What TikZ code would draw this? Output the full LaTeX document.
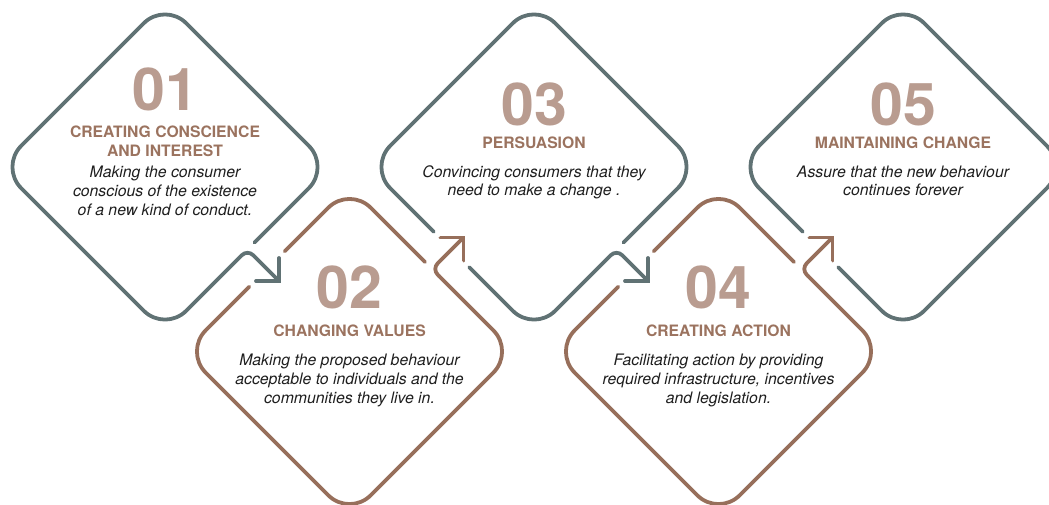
\documentclass[tikz,border=0pt]{standalone}
\usepackage{fontspec}
\setmainfont{TeX Gyre Heros}
\usetikzlibrary{calc}
\definecolor{grayc}{HTML}{607274}
\definecolor{brownc}{HTML}{976F5B}
\definecolor{numc}{HTML}{B99C90}
\definecolor{ttlc}{HTML}{9B735F}
\definecolor{bodyc}{HTML}{1E1E1E}
\begin{document}
\begin{tikzpicture}[x=1pt,y=-1pt,
  edgeline/.style={line width=3.8pt, line cap=round, line join=round, rounded corners=30pt},
  turnline/.style={line width=3.8pt, line cap=round, line join=round, rounded corners=8pt},
  headline/.style={line width=3.8pt, line cap=round, line join=miter},
  numtxt/.style={anchor=base, inner sep=0pt, text=numc, font=\fontsize{59}{59}\selectfont\bfseries},
  ttltxt/.style={anchor=base, inner sep=0pt, text=ttlc, font=\fontsize{15.7}{19}\selectfont\bfseries},
  bodytxt/.style={anchor=base, inner sep=0pt, text=bodyc, font=\fontsize{15.8}{19}\selectfont\itshape}]
\useasboundingbox (0,0) rectangle (1049,504);
\clip (0,0) rectangle (1049,504);
% diamond vertices
\coordinate (T1) at (165,2);     \coordinate (R1) at (330,167);   \coordinate (B1) at (165,332);   \coordinate (L1) at (0,167);
\coordinate (T2) at (349.5,186.5); \coordinate (R2) at (514.5,351.5); \coordinate (B2) at (349.5,516.5); \coordinate (L2) at (184.5,351.5);
\coordinate (T3) at (534,2);     \coordinate (R3) at (699,167);   \coordinate (B3) at (534,332);   \coordinate (L3) at (369,167);
\coordinate (T4) at (718.5,186.5); \coordinate (R4) at (883.5,351.5); \coordinate (B4) at (718.5,516.5); \coordinate (L4) at (553.5,351.5);
\coordinate (T5) at (903,2);     \coordinate (R5) at (1068,167);  \coordinate (B5) at (903,332);   \coordinate (L5) at (738,167);
% exits
\coordinate (S1) at (254.57,242.43); \coordinate (P1) at (240.43,256.57); \coordinate (M1) at (247.5,249.5); \coordinate (X1) at (279,281);
\coordinate (S2) at (424.93,261.93); \coordinate (P2) at (439.07,276.07); \coordinate (M2) at (432,269);     \coordinate (X2) at (463.5,237.5);
\coordinate (S3) at (623.57,242.43); \coordinate (P3) at (609.43,256.57); \coordinate (M3) at (616.5,249.5); \coordinate (X3) at (648,281);
\coordinate (S4) at (793.93,261.93); \coordinate (P4) at (808.07,276.07); \coordinate (M4) at (801,269);     \coordinate (X4) at (832.5,237.5);
% entry gaps
\coordinate (G2a) at (249.32,286.68); \coordinate (G2b) at (284.68,251.32);
\coordinate (G3a) at (433.82,231.82); \coordinate (G3b) at (469.18,267.18);
\coordinate (G4a) at (618.32,286.68); \coordinate (G4b) at (653.68,251.32);
\coordinate (G5a) at (802.82,231.82); \coordinate (G5b) at (838.18,267.18);
% diamond 1
\draw[edgeline, grayc] (S1) -- (R1) -- (T1) -- (L1) -- (B1) -- (P1);
\draw[turnline, grayc] (P1) -- (M1) -- (X1);
\draw[headline, grayc] ($(X1)+(-23,0)$) -- (X1) -- ($(X1)+(0,-23)$);
% diamond 2
\draw[edgeline, brownc] (S2) -- (T2) -- (G2b);
\draw[edgeline, brownc] (G2a) -- (L2) -- (B2) -- (R2) -- (P2);
\draw[turnline, brownc] (P2) -- (M2) -- (X2);
\draw[headline, brownc] ($(X2)+(-23,0)$) -- (X2) -- ($(X2)+(0,23)$);
% diamond 3
\draw[edgeline, grayc] (S3) -- (R3) -- (T3) -- (L3) -- (G3a);
\draw[edgeline, grayc] (G3b) -- (B3) -- (P3);
\draw[turnline, grayc] (P3) -- (M3) -- (X3);
\draw[headline, grayc] ($(X3)+(-23,0)$) -- (X3) -- ($(X3)+(0,-23)$);
% diamond 4
\draw[edgeline, brownc] (S4) -- (T4) -- (G4b);
\draw[edgeline, brownc] (G4a) -- (L4) -- (B4) -- (R4) -- (P4);
\draw[turnline, brownc] (P4) -- (M4) -- (X4);
\draw[headline, brownc] ($(X4)+(-23,0)$) -- (X4) -- ($(X4)+(0,23)$);
% diamond 5
\draw[edgeline, grayc] (G5b) -- (B5) -- (R5) -- (T5) -- (L5) -- (G5a);
% texts 1
\node[numtxt] (n1) at (165,110) {01};
\node[ttltxt] (t1a) at (165,137) {CREATING CONSCIENCE};
\node[ttltxt] (t1b) at (165,156) {AND INTEREST};
\node[bodytxt] (b1a) at (165,177) {Making the consumer};
\node[bodytxt] (b1b) at (165,196) {conscious of the existence};
\node[bodytxt] (b1c) at (165,215) {of a new kind of conduct.};
% texts 2
\node[numtxt] (n2) at (349.5,308) {02};
\node[ttltxt] (t2a) at (349.5,336) {CHANGING VALUES};
\node[bodytxt] (b2a) at (349.5,365) {Making the proposed behaviour};
\node[bodytxt] (b2b) at (349.5,384) {acceptable to individuals and the};
\node[bodytxt] (b2c) at (349.5,403) {communities they live in.};
% texts 3
\node[numtxt] (n3) at (534,125) {03};
\node[ttltxt] (t3a) at (534,148) {PERSUASION};
\node[bodytxt] (b3a) at (534,177) {Convincing consumers that they};
\node[bodytxt] (b3b) at (534,195) {need to make a change .};
% texts 4
\node[numtxt] (n4) at (718.5,308) {04};
\node[ttltxt] (t4a) at (718.5,336) {CREATING ACTION};
\node[bodytxt] (b4a) at (718.5,365) {Facilitating action by providing};
\node[bodytxt] (b4b) at (718.5,384) {required infrastructure, incentives};
\node[bodytxt] (b4c) at (718.5,403) {and legislation.};
% texts 5
\node[numtxt] (n5) at (903,125) {05};
\node[ttltxt] (t5a) at (903,148) {MAINTAINING CHANGE};
\node[bodytxt] (b5a) at (903,177) {Assure that the new behaviour};
\node[bodytxt] (b5b) at (903,195) {continues forever};
\end{tikzpicture}
\end{document}
